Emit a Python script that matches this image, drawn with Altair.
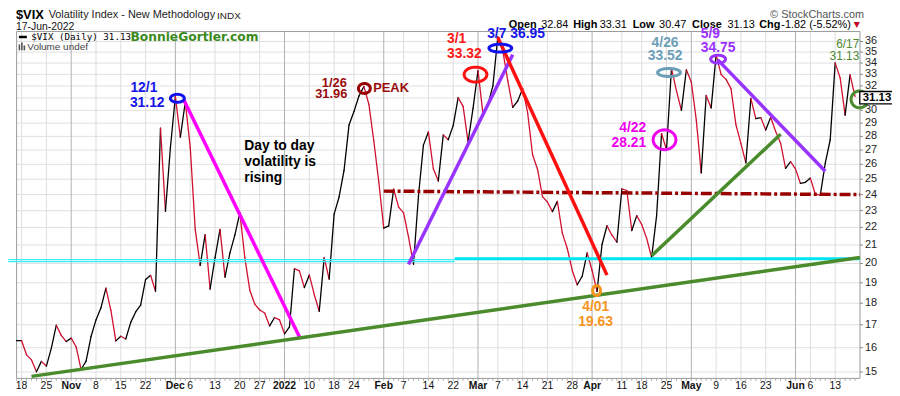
import math
import altair as alt
import pandas as pd

# ---------------- data ----------------
holidays = ["2021-11-25", "2021-12-24", "2022-01-17", "2022-02-21", "2022-04-15", "2022-05-30"]
dates = [d.strftime("%Y-%m-%d") for d in pd.bdate_range("2021-10-15", "2022-06-17")
         if d.strftime("%Y-%m-%d") not in holidays]

vix_oct = [16.30, 16.30, 15.70, 15.49, 15.01, 15.43, 15.24, 15.98, 16.98, 16.53, 16.26]
vix_nov = [16.41, 16.03, 15.10, 15.44, 16.48, 17.22, 17.78, 18.73, 17.66, 16.29, 16.49, 16.37,
           17.11, 17.59, 17.91, 19.17, 19.38, 18.58, 28.62, 22.96, 27.19]
vix_dec = [31.12, 27.95, 30.67, 27.18, 21.89, 19.90, 21.58, 18.69, 20.31, 21.89, 19.29, 20.57,
           21.57, 22.87, 20.31, 18.63, 17.96, 17.68, 17.54, 16.95, 17.33, 17.22]
vix_jan = [16.60, 16.91, 19.73, 19.61, 18.76, 19.40, 18.41, 17.62, 20.31, 19.19, 22.79, 23.85,
           25.59, 28.85, 29.90, 31.16, 31.96, 30.49, 27.66, 24.83]
vix_feb = [21.96, 22.09, 24.35, 23.22, 22.86, 21.44, 19.96, 23.91, 27.36, 28.33, 25.70, 24.88,
           28.11, 27.75, 28.81, 31.02, 30.32, 27.59, 30.15]
vix_mar = [33.32, 29.74, 30.48, 31.98, 36.45, 35.13, 32.45, 30.23, 30.75, 31.77, 29.83, 26.67,
           25.67, 23.87, 23.53, 22.94, 23.57, 21.67, 20.81, 19.63, 18.90, 19.33, 20.56]
vix_apr = [19.63, 18.57, 21.03, 22.10, 21.55, 21.16, 24.37, 24.26, 21.82, 22.70, 22.17, 21.37,
           20.32, 22.68, 28.21, 27.02, 33.52, 31.60, 29.99, 33.40]
vix_may = [32.34, 29.25, 25.42, 31.20, 30.19, 34.75, 32.99, 32.56, 31.77, 28.87, 27.47, 26.10,
           30.96, 29.35, 29.43, 28.48, 29.45, 28.37, 27.50, 25.72, 26.19]
vix_jun = [25.69, 24.72, 24.79, 25.07, 24.02, 23.96, 26.09, 27.75, 34.02, 32.69, 29.62, 32.95, 31.13]
vix = vix_oct + vix_nov + vix_dec + vix_jan + vix_feb + vix_mar + vix_apr + vix_may + vix_jun

tick_dates = ["2021-10-18", "2021-10-25", "2021-11-01", "2021-11-08", "2021-11-15", "2021-11-22",
              "2021-12-01", "2021-12-06", "2021-12-13", "2021-12-20", "2021-12-27", "2022-01-03",
              "2022-01-10", "2022-01-18", "2022-01-24", "2022-02-01", "2022-02-07", "2022-02-14",
              "2022-02-22", "2022-03-01", "2022-03-07", "2022-03-14", "2022-03-21", "2022-03-28",
              "2022-04-01", "2022-04-11", "2022-04-18", "2022-04-25", "2022-05-02", "2022-05-09",
              "2022-05-16", "2022-05-23", "2022-06-01", "2022-06-06", "2022-06-13"]
tick_text = ["18", "25", "Nov", "8", "15", "22", "Dec", "6", "13", "20", "27", "2022", "10", "18",
             "24", "Feb", "7", "14", "22", "Mar", "7", "14", "21", "28", "Apr", "11", "18", "25",
             "May", "9", "16", "23", "Jun", "6", "13"]
tick_month = [t in ("Nov", "Dec", "2022", "Feb", "Mar", "Apr", "May", "Jun") for t in tick_text]
y_ticks = list(range(15, 37))

# annotation trend lines (trading-day index, VIX value)
tl_x1 = [33.66, 3.0, 79.0, 97.0, 128.0, 141.3]
tl_y1 = [30.88, 14.83, 19.95, 36.38, 20.41, 34.31]
tl_x2 = [57.0, 170.0, 100.0, 119.0, 154.0, 163.0]
tl_y2 = [16.47, 20.32, 34.76, 19.39, 28.16, 25.53]
tl_col = ["#ff00ff", "#4a8b2c", "#9933ff", "#ff1010", "#4a8b2c", "#9933ff"]

# horizontal levels
res_x = [74.0, 170.0]
res_y = [24.22, 24.0]
cyan_thin_x = [-1.7, 88.3]
cyan_thin_y = [20.2, 20.1]
cyan_thick_x = [88.3, 170.0]
cyan_thick_y = 20.25

# ellipses
ell_x = [32.4, 70.1, 92.5, 97.5, 116.9, 130.6, 131.5, 141.4, 169.9]
ell_v = [30.97, 31.79, 32.98, 35.37, 18.61, 27.75, 33.16, 34.35, 30.88]
ell_w = [17, 15, 26, 26, 11, 26, 26, 18, 20]
ell_h = [11, 13, 18, 11, 13, 23, 11, 11, 20]
ell_c = ["#1111ee", "#990000", "#ff1010", "#1111ee", "#f7941d", "#ee00ee", "#6d9eb8", "#9933ff", "#4a8b2c"]

# ---------------- frames ----------------
n = len(vix)
seg = pd.DataFrame({
    "x": list(range(n - 1)), "x2": list(range(1, n)),
    "y": vix[:-1], "y2": vix[1:],
    "d": ["up" if vix[i + 1] >= vix[i] else "down" for i in range(n - 1)],
})
ticks = pd.DataFrame({"idx": [dates.index(d) for d in tick_dates], "t": tick_text,
                      "m": ["y" if m else "n" for m in tick_month]})
ygrid = pd.DataFrame({"v": y_ticks})
days = pd.DataFrame({"idx": list(range(0, 170))})

W, H = 851, 350
OX, OY = 16.7, 30.0  # page position of plot origin

xs = alt.Scale(domain=[0, 170], nice=False, zero=False)
ys = alt.Scale(type="log", domain=[14.75, 36.96], nice=False)
NOAX = None

layers = []

# horizontal grid
layers.append(alt.Chart(ygrid).mark_rule(color="#e0e0e0", strokeWidth=1).encode(
    y=alt.Y("v:Q", scale=ys, axis=NOAX), x=alt.value(0), x2=alt.value(W)))
# vertical grid
layers.append(alt.Chart(ticks).transform_filter("datum.m == 'n'").mark_rule(
    color="#dedede", strokeWidth=1).encode(
    x=alt.X("idx:Q", scale=xs, axis=NOAX), y=alt.value(0), y2=alt.value(H)))
layers.append(alt.Chart(ticks).transform_filter("datum.m == 'y'").mark_rule(
    color="#b0b0b0", strokeWidth=1).encode(
    x=alt.X("idx:Q", scale=xs, axis=NOAX), y=alt.value(0), y2=alt.value(H)))

# day ticks under the plot
layers.append(alt.Chart(days).mark_rule(color="#b0b0b0", strokeWidth=1).encode(
    x=alt.X("idx:Q", scale=xs, axis=NOAX), y=alt.value(H), y2=alt.value(H + 2.5)))

# frame
layers.append(alt.Chart(pd.DataFrame({"a": [0]})).mark_rect(
    fill=None, fillOpacity=0, stroke="#9a9a9a", strokeWidth=1).encode(
    x=alt.value(0), x2=alt.value(W), y=alt.value(0), y2=alt.value(H)))

# right y labels and ticks
layers.append(alt.Chart(ygrid).mark_rule(color="#888", strokeWidth=1).encode(
    y=alt.Y("v:Q", scale=ys, axis=NOAX), x=alt.value(W), x2=alt.value(W + 3)))
layers.append(alt.Chart(ygrid).mark_text(
    align="left", baseline="middle", font="Liberation Sans", fontSize=11, color="#222").encode(
    y=alt.Y("v:Q", scale=ys, axis=NOAX), x=alt.value(W + 5), text="v:Q"))

# price line coloured by direction
layers.append(alt.Chart(seg).mark_rule(strokeWidth=1.3, strokeCap="round").encode(
    x=alt.X("x:Q", scale=xs, axis=NOAX), x2="x2:Q",
    y=alt.Y("y:Q", scale=ys, axis=NOAX), y2="y2:Q",
    color=alt.Color("d:N", scale=alt.Scale(domain=["up", "down"], range=["#000000", "#d01030"]),
                    legend=None),
))

# cyan support
cyan_thin = pd.DataFrame({"x": [cyan_thin_x[0]] * 2, "x2": [cyan_thin_x[1]] * 2, "y": cyan_thin_y})
layers.append(alt.Chart(cyan_thin).mark_rule(color="#38eef8", strokeWidth=1.2).encode(
    x=alt.X("x:Q", scale=xs, axis=NOAX), x2="x2:Q", y=alt.Y("y:Q", scale=ys, axis=NOAX), y2="y:Q"))
cyan_thick = pd.DataFrame({"x": [cyan_thick_x[0]], "x2": [cyan_thick_x[1]], "y": [cyan_thick_y]})
layers.append(alt.Chart(cyan_thick).mark_rule(color="#00e4f2", strokeWidth=3).encode(
    x=alt.X("x:Q", scale=xs, axis=NOAX), x2="x2:Q", y=alt.Y("y:Q", scale=ys, axis=NOAX), y2="y:Q"))

# dash-dot resistance
res = pd.DataFrame({"x": [res_x[0]], "x2": [res_x[1]], "y": [res_y[0]], "y2": [res_y[1]]})
layers.append(alt.Chart(res).mark_rule(color="#990000", strokeWidth=3.5, strokeDash=[11, 3, 3, 3]).encode(
    x=alt.X("x:Q", scale=xs, axis=NOAX), x2="x2:Q", y=alt.Y("y:Q", scale=ys, axis=NOAX), y2="y2:Q"))

# trend lines
tl = pd.DataFrame({"x": tl_x1, "y": tl_y1, "x2": tl_x2, "y2": tl_y2, "c": tl_col})
layers.append(alt.Chart(tl).mark_rule(strokeWidth=3.5).encode(
    x=alt.X("x:Q", scale=xs, axis=NOAX), x2="x2:Q", y=alt.Y("y:Q", scale=ys, axis=NOAX), y2="y2:Q",
    color=alt.Color("c:N", scale=None)))


def ellipse_path(r):
    pts = []
    for k in range(48):
        a = 2 * math.pi * k / 48
        pts.append(f"{math.cos(a):.4f},{r * math.sin(a):.4f}")
    return "M" + " L".join(pts) + " Z"


ell = pd.DataFrame({
    "x": ell_x, "v": ell_v, "c": ell_c,
    "shape": [ellipse_path((h - 3) / (w - 3)) for w, h in zip(ell_w, ell_h)],
    "size": [(w - 3) ** 2 for w in ell_w],
})
layers.append(alt.Chart(ell).mark_point(filled=False, strokeWidth=3, opacity=1).encode(
    x=alt.X("x:Q", scale=xs, axis=NOAX), y=alt.Y("v:Q", scale=ys, axis=NOAX),
    shape=alt.Shape("shape:N", scale=None), size=alt.Size("size:Q", scale=None),
    stroke=alt.Stroke("c:N", scale=None)))

# x tick labels
for flag, wt in (("n", "normal"), ("y", "bold")):
    layers.append(alt.Chart(ticks).transform_filter(f"datum.m == '{flag}'").mark_text(
        baseline="middle", align="center", font="Liberation Sans", fontSize=10.5,
        fontWeight=wt, color="#111").encode(
        x=alt.X("idx:Q", scale=xs, axis=NOAX), y=alt.value(H + 7.5), text="t:N"))


def T(s, px, py, size, color="#000", weight="normal", align="left", font="Liberation Sans"):
    return alt.Chart(pd.DataFrame({"t": [s]})).mark_text(
        align=align, baseline="middle", font=font, fontSize=size, fontWeight=weight, color=color
    ).encode(x=alt.value(px - OX), y=alt.value(py - OY), text="t:N")


def R(px1, py1, px2, py2, color, w):
    return alt.Chart(pd.DataFrame({"a": [0]})).mark_rule(color=color, strokeWidth=w).encode(
        x=alt.value(px1 - OX), x2=alt.value(px2 - OX), y=alt.value(py1 - OY), y2=alt.value(py2 - OY))


# header
layers += [
    T("$VIX", 16, 13.5, 13, "#000", "bold"),
    T("Volatility Index - New Methodology", 49, 13.5, 11, "#222"),
    T("INDX", 219, 14, 10, "#222"),
    T("17-Jun-2022", 16, 25.5, 10.5, "#111"),
    T("\u00a9 StockCharts.com", 777, 13, 11, "#555"),
    T("Open", 513.3, 23, 11, "#000", "bold"), T("32.84", 546, 23, 11, "#000"),
    T("High", 578.3, 23, 11, "#000", "bold"), T("33.31", 605, 23, 11, "#000"),
    T("Low", 638.3, 23, 11, "#000", "bold"), T("30.47", 665, 23, 11, "#000"),
    T("Close", 698.3, 23, 11, "#000", "bold"), T("31.13", 734, 23, 11, "#000"),
    T("Chg", 766, 23, 11, "#000", "bold"), T("-1.82 (-5.52%)", 788.3, 23, 11, "#000"),
    T("\u25bc", 861.5, 23.5, 8, "#cc0022", font="DejaVu Sans"),
]

# legend inside plot
layers += [
    R(19, 35.5, 27, 35.5, "#000", 2.5),
    T("$VIX (Daily) 31.13", 31.5, 35.5, 9.3, "#000", font="DejaVu Sans Mono"),
    T("BonnieGortler.com", 131.5, 36, 12.4, "#3b8a1c", "bold", font="DejaVu Sans"),
    R(19.5, 43, 19.5, 49, "#555", 1.6), R(22, 41, 22, 49, "#555", 1.6), R(24.5, 44, 24.5, 49, "#555", 1.6),
    T("Volume undef", 27.5, 45.5, 10, "#444"),
]

# annotations
BLUE, DRED, RED, MAG, STEEL, PURP, ORNG, GRN = ("#1515e8", "#9a0c0c", "#ff1a1a", "#ee00ee",
                                               "#6d9eb8", "#9b30ff", "#f7941d", "#4d8a30")
layers += [
    T("12/1", 131.5, 87, 14, BLUE, "bold"), T("31.12", 131, 102.5, 14, BLUE, "bold"),
    T("Day to day", 246.5, 146, 14, "#000", "bold"),
    T("volatility is", 246.5, 162, 14, "#000", "bold"),
    T("rising", 246.5, 178, 14, "#000", "bold"),
    T("1/26", 350, 81.5, 13, DRED, "bold", "right"), T("31.96", 350.5, 93.5, 13, DRED, "bold", "right"),
    T("PEAK", 376.5, 87, 13, DRED, "bold"),
    T("3/1", 451, 38, 14, RED, "bold"), T("33.32", 451, 52.5, 14, RED, "bold"),
    T("3/7 36.95", 491.5, 32.5, 14, BLUE, "bold"),
    T("4/22", 652, 127.5, 14, MAG, "bold", "right"), T("28.21", 652, 143, 14, MAG, "bold", "right"),
    T("4/26", 671, 42, 14, STEEL, "bold", "center"), T("33.52", 671, 55, 14, STEEL, "bold", "center"),
    T("5/9", 707, 32.5, 14, PURP, "bold"), T("34.75", 707, 47, 14, PURP, "bold"),
    T("4/01", 601, 307.5, 14, ORNG, "bold", "center"), T("19.63", 601, 323, 14, ORNG, "bold", "center"),
    T("6/17", 867, 42.5, 12, GRN, "normal", "right"), T("31.13", 867, 54.5, 12, GRN, "normal", "right"),
]

# last value box
box = alt.Chart(pd.DataFrame({"a": [0]})).mark_rect(fill="#ffffff", stroke="#000", strokeWidth=1.3).encode(
    x=alt.value(867.5 - OX), x2=alt.value(903 - OX), y=alt.value(90.5 - OY), y2=alt.value(103 - OY))
layers += [box, T("31.13", 870.5, 97, 11.5, "#000", "bold")]

chart = alt.layer(*layers).properties(
    width=W, height=H,
    padding={"left": 8.7, "top": 22, "right": 32.3, "bottom": 15},
    autosize=alt.AutoSizeParams(type="none"),
    background="#ffffff",
).configure_view(stroke=None)

chart.save("out.html", embed_options={"renderer": "svg", "actions": False})
